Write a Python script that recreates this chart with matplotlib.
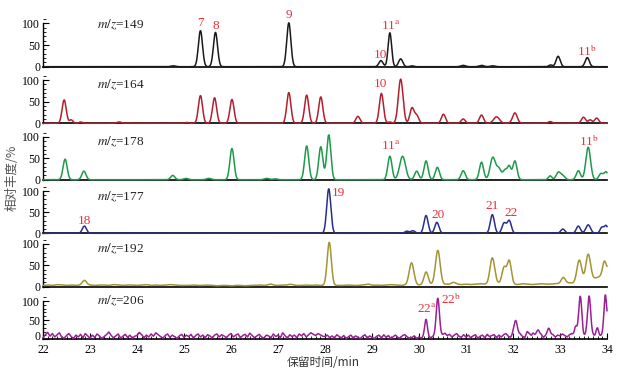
import numpy as np
import matplotlib
matplotlib.use('Agg')
import matplotlib.pyplot as plt
from matplotlib.ticker import MultipleLocator
from matplotlib.transforms import ScaledTranslation

plt.rcParams['font.family'] = ['Liberation Serif', 'Noto Sans CJK SC']
plt.rcParams['mathtext.fontset'] = 'stix'

# ---------------- data ----------------
mz_labels = ["149", "164", "178", "177", "192", "206"]
colors = ["#1a1a1a", "#b2202e", "#1f9a4c", "#2a2d8c", "#a39434", "#9b1f95"]

# peak retention times (min), heights (%), widths (sigma, min)
p149_t = [24.77, 25.35, 25.67, 27.23, 29.19, 29.38, 29.61, 29.85, 30.94, 31.33, 31.57, 32.80, 32.96, 33.58]
p149_h = [2, 83, 79, 101, 14, 78, 18, 2, 3, 3, 2, 4, 24, 21]
p149_w = [0.04, 0.035, 0.035, 0.035, 0.035, 0.03, 0.035, 0.03, 0.04, 0.04, 0.04, 0.03, 0.035, 0.035]

p164_t = [22.45, 22.60, 22.80, 23.62, 23.84, 25.06, 25.35, 25.65, 26.02, 27.23, 27.61, 27.91,
          28.70, 29.20, 29.38, 29.61, 29.85, 29.95, 30.52, 30.94, 31.33, 31.65, 32.04, 32.79,
          33.50, 33.64, 33.78]
p164_h = [54, 8, 3, 3, 1, 2, 64, 59, 55, 71, 65, 61,
          16, 69, 3, 102, 35, 18, 21, 10, 19, 15, 24, 4,
          14, 8, 12]
p164_w = [0.035, 0.03, 0.03, 0.04, 0.03, 0.03, 0.035, 0.035, 0.035, 0.035, 0.035, 0.035,
          0.035, 0.035, 0.03, 0.04, 0.035, 0.035, 0.035, 0.035, 0.035, 0.05, 0.04, 0.035,
          0.035, 0.03, 0.035]

p178_t = [22.47, 22.87, 24.76, 25.04, 25.53, 26.02, 26.76, 26.94, 27.61, 27.91, 28.08,
          29.38, 29.65, 29.95, 30.15, 30.39, 30.94, 31.33, 31.57, 31.70, 31.83, 31.92, 32.04,
          32.79, 32.96, 33.05, 33.39, 33.60, 33.87, 33.98]
p178_h = [48, 20, 10, 3, 3, 73, 3, 2, 79, 77, 105,
          55, 55, 20, 44, 29, 21, 41, 52, 25, 22, 30, 44,
          9, 16, 10, 21, 76, 14, 18]
p178_w = [0.035, 0.035, 0.035, 0.04, 0.04, 0.035, 0.04, 0.04, 0.035, 0.035, 0.035,
          0.035, 0.05, 0.035, 0.035, 0.035, 0.035, 0.035, 0.045, 0.04, 0.035, 0.03, 0.035,
          0.03, 0.035, 0.04, 0.035, 0.04, 0.035, 0.035]

p177_t = [22.88, 28.08, 29.74, 29.87, 30.15, 30.38, 31.56, 31.81, 31.92, 33.06, 33.39, 33.60, 33.89, 33.98]
p177_h = [17, 105, 5, 6, 42, 26, 44, 24, 30, 10, 17, 20, 14, 18]
p177_w = [0.035, 0.035, 0.035, 0.035, 0.035, 0.035, 0.035, 0.035, 0.035, 0.035, 0.035, 0.04, 0.03, 0.03]

p192_t = [22.88, 26.84, 27.25, 28.09, 28.92, 29.84, 30.15, 30.40, 30.73, 31.56, 31.81, 31.92,
          33.07, 33.41, 33.60, 33.94]
p192_h = [10, 3, 2, 100, 3, 52, 29, 81, 5, 62, 38, 54,
          14, 52, 62, 28]
p192_w = [0.035, 0.04, 0.04, 0.035, 0.04, 0.04, 0.035, 0.04, 0.035, 0.04, 0.035, 0.035,
          0.035, 0.04, 0.04, 0.03]

p206_t = [30.15, 30.40, 32.06, 32.30, 32.42, 32.54, 32.77, 33.33, 33.43, 33.62, 33.79, 33.96]
p206_h = [50, 100, 40, 8, 8, 15, 15, 22, 100, 100, 18, 100]
p206_w = [0.025, 0.03, 0.035, 0.02, 0.02, 0.025, 0.03, 0.025, 0.03, 0.03, 0.025, 0.025]

# baseline of m/z=192, every 0.1 min from 22.0 to 34.0
base192 = [3, 4, 3, 5, 4, 3, 4, 3, 4, 5,
           4, 3, 4, 4, 3, 5, 4, 3, 4, 4,
           3, 4, 5, 3, 4, 3, 4, 5, 4, 3,
           3, 3, 4, 3, 3, 4, 3, 2, 3, 3,
           2, 3, 3, 2, 3, 3, 4, 3, 3, 3,
           3, 4, 3, 4, 3, 3, 4, 3, 4, 3,
           3, 4, 3, 3, 3, 4, 3, 3, 4, 3,
           3, 4, 3, 4, 5, 4, 3, 4, 3, 5,
           4, 5, 6, 5, 4, 5, 6, 5, 6, 5,
           6, 5, 6, 7, 6, 5, 6, 8, 7, 7,
           6, 5, 7, 6, 5, 6, 7, 6, 6, 7,
           7, 8, 9, 8, 10, 12, 14, 18, 22, 26,
           40]

# baseline noise of m/z=206, every 0.05 min from 22.00 to 34.00
base206 = [4, 12, 18, 8, 15, 6, 12, 17, 5, 3, 10, 15, 7, 2, 11, 6, 13, 4, 15, 9,
           3, 11, 5, 14, 9, 2, 7, 12, 19, 10, 4, 9, 14, 3, 8, 13, 5, 11, 2, 8,
           10, 18, 12, 4, 11, 6, 14, 8, 17, 12, 7, 3, 10, 14, 5, 11, 7, 2, 9, 13,
           5, 11, 7, 13, 3, 10, 14, 6, 11, 4, 12, 9, 3, 11, 14, 6, 12, 9, 4, 11,
           15, 6, 11, 14, 4, 10, 13, 6, 16, 10, 4, 9, 13, 6, 3, 11, 9, 4, 14, 7,
           11, 4, 17, 9, 3, 12, 7, 11, 4, 14, 9, 15, 6, 12, 17, 13, 10, 15, 12, 8,
           7, 11, 4, 9, 3, 12, 7, 4, 10, 2, 7, 11, 3, 9, 5, 2, 8, 12, 3, 9,
           5, 2, 8, 11, 3, 12, 5, 10, 2, 7, 11, 5, 3, 10, 12, 6, 3, 5, 9, 2,
           6, 3, 8, 2, 6, 4, 8, 10, 7, 11, 12, 16, 10, 13, 6, 11, 15, 8, 5, 12,
           6, 11, 4, 9, 12, 3, 8, 11, 4, 13, 7, 10, 12, 4, 11, 6, 12, 15, 8, 5,
           12, 10, 5, 13, 8, 4, 12, 15, 6, 11, 14, 8, 12, 5, 11, 16, 8, 12, 6, 11,
           9, 14, 10, 6, 12, 15, 8, 13, 10, 14, 8, 12, 15, 10, 12, 7, 13, 9, 12, 8,
           40]

# peak annotations: (panel, text, time, level)
ann_panel = [0, 0, 0, 0, 0, 0, 1, 2, 2, 3, 3, 3, 3, 3, 5, 5]
ann_text = ["7", "8", "9", "10", "11$^{\\mathrm{a}}$", "11$^{\\mathrm{b}}$", "10",
            "11$^{\\mathrm{a}}$", "11$^{\\mathrm{b}}$", "18", "19", "20", "21", "22",
            "22$^{\\mathrm{a}}$", "22$^{\\mathrm{b}}$"]
ann_t = [25.35, 25.67, 27.23, 29.19, 29.40, 33.57, 29.19, 29.40, 33.62, 22.88, 28.29,
         30.40, 31.56, 31.96, 30.16, 30.68]
ann_y = [101, 94, 119, 27, 96, 36, 90, 79, 91, 30, 96, 44, 64, 49, 81, 105]

x_ticks = [22, 23, 24, 25, 26, 27, 28, 29, 30, 31, 32, 33, 34]

# ---------------- layout ----------------
W, H = 625, 369
zero_px = [66.7, 123.3, 179.7, 233.3, 286.7, 339.3]
scale_px = [43.4, 43.3, 42.7, 42.3, 42.7, 38.3]
ytop = [112, 112, 112, 112, 112, 118]
label_y = [96, 88, 88, 86, 88, 100]
left_px, right_px = 43, 607
width_factor = 1.25

peaks = [(p149_t, p149_h, p149_w), (p164_t, p164_h, p164_w), (p178_t, p178_h, p178_w),
         (p177_t, p177_h, p177_w), (p192_t, p192_h, p192_w), (p206_t, p206_h, p206_w)]

t = np.arange(22.0, 34.0001, 0.004)

fig = plt.figure(figsize=(W / 100, H / 100), dpi=100)
axes = []
for i in range(6):
    hpx = scale_px[i] * ytop[i] / 100
    ax = fig.add_axes([left_px / W, 1 - zero_px[i] / H,
                       (right_px - left_px) / W, hpx / H])
    axes.append(ax)
    pt, ph, pw = peaks[i]
    y = np.zeros_like(t)
    if i == 4:
        y += np.interp(t, np.linspace(22, 34, len(base192)), base192)
    elif i == 5:
        y += np.interp(t, np.linspace(22, 34, len(base206)), base206)
    wf = width_factor if i < 5 else 1.1
    for c, h, w in zip(pt, ph, pw):
        y += h * np.exp(-0.5 * ((t - c) / (w * wf)) ** 2)
    ax.plot(t, y, color=colors[i], lw=1.1, clip_on=False, zorder=3)
    ax.set_xlim(22, 34)
    ax.set_ylim(0, ytop[i])
    for s in ['top', 'right']:
        ax.spines[s].set_visible(False)
    ax.spines['left'].set_bounds(0, 100)
    ax.spines['left'].set_linewidth(1.0)
    ax.spines['bottom'].set_linewidth(1.2)
    ax.set_yticks([0, 50, 100])
    ax.yaxis.set_minor_locator(MultipleLocator(10))
    ax.tick_params(axis='y', which='major', direction='in', length=4, width=0.8,
                   labelsize=8.5, pad=2)
    ax.tick_params(axis='y', which='minor', direction='in', length=2, width=0.6)
    ax.text(23.15, label_y[i], "$m/z$=" + mz_labels[i], fontsize=9.5,
            va='center', ha='left', color='#222222')
    if i < 5:
        ax.set_xticks([])
        ax.tick_params(axis='x', which='both', bottom=False, labelbottom=False)
    else:
        ax.set_xticks(x_ticks)
        ax.xaxis.set_minor_locator(MultipleLocator(0.1))
        ax.tick_params(axis='x', which='major', direction='in', length=4, width=0.8,
                       labelsize=8.5, pad=3.5)
        ax.tick_params(axis='x', which='minor', direction='in', length=2, width=0.6)
    ax.patch.set_alpha(0)

# lift only the "0" of the lowest panel a little so it clears the "22" below it
zero_tick = axes[5].yaxis.get_major_ticks()[0]
zero_tick.label1.set_transform(zero_tick.label1.get_transform() +
                               ScaledTranslation(0, 2.5 / 72, fig.dpi_scale_trans))

for p, txt, tt, yy in zip(ann_panel, ann_text, ann_t, ann_y):
    axes[p].text(tt, yy, txt, color='#e8303a', fontsize=9.5, ha='center',
                 va='center', clip_on=False)

fig.text(323 / W, 1 - 363 / H, "保留时间/min", ha='center', va='center',
         fontsize=8.5, family=['Noto Sans CJK SC'], color='#333333')
fig.text(12 / W, 1 - 178 / H, "相对丰度/%", ha='center', va='center',
         rotation=90, fontsize=9, family=['Noto Sans CJK SC'], color='#555555')

fig.savefig("out.png", dpi=100)
